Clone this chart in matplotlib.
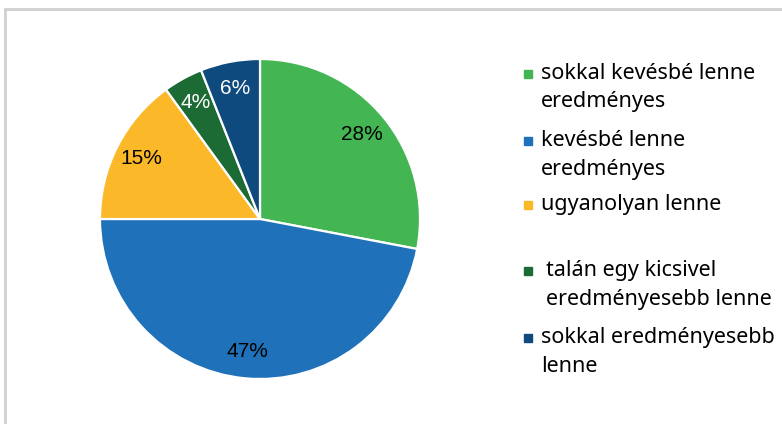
import matplotlib.pyplot as plt
from matplotlib.patches import Rectangle

# adatok
labels = [['sokkal kevésbé lenne', 'eredményes'], ['kevésbé lenne', 'eredményes'], ['ugyanolyan lenne'],
          ['talán egy kicsivel', 'eredményesebb lenne'], ['sokkal eredményesebb', 'lenne']]
values = [28, 47, 15, 4, 6]
colors = ['#44B553', '#1F72BA', '#FBB829', '#1C6B35', '#0F4A7E']
pct_colors = ['black', 'black', 'black', 'white', 'white']

W, H = 782, 424
fig = plt.figure(figsize=(W / 100, H / 100), dpi=100)

# szürke keret (jobb és alsó oldala le van vágva)
fig.patches.append(Rectangle((5 / W, -0.1), 1.2, 1 - 9 / H + 0.1, transform=fig.transFigure,
                             fill=False, edgecolor='#D0D0D0', linewidth=2))

cx, cy, r = 260, 219, 160
ax = fig.add_axes([(cx - r) / W, (H - cy - r) / H, 2 * r / W, 2 * r / H])
wedges, texts, autotexts = ax.pie(values, colors=colors, startangle=90, counterclock=False,
                                  autopct='%d%%', pctdistance=0.83,
                                  wedgeprops=dict(edgecolor='white', linewidth=1.6),
                                  textprops=dict(family='Liberation Sans', fontsize=15))
for t, c in zip(autotexts, pct_colors):
    t.set_color(c)
ax.set_xlim(-1, 1)
ax.set_ylim(-1, 1)
ax.axis('off')

# jelmagyarázat kézzel
leg_y = [74, 141, 205, 271, 338]
leg_x = [541, 541, 541, 546, 541]
for lines, col, y, x in zip(labels, colors, leg_y, leg_x):
    fig.patches.append(Rectangle((524 / W, (H - y - 4) / H), 8 / W, 8 / H,
                                 transform=fig.transFigure, color=col))
    for k, line in enumerate(lines):
        fig.text(x / W, (H - (y + 5 + 28.5 * k)) / H, line, ha='left', va='baseline',
                 fontsize=15.5, family='Noto Sans')

fig.savefig('out.png', dpi=100)
